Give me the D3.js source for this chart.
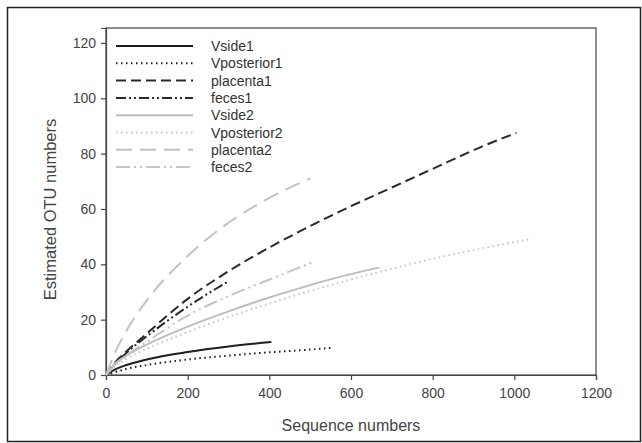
<!DOCTYPE html>
<html>
<head>
<meta charset="utf-8">
<script src="https://cdn.jsdelivr.net/npm/d3@7"></script>
<style>
  body { margin: 0; background: #fff; }
  svg text { font-family: "Liberation Sans", Arial, sans-serif; }
</style>
</head>
<body>
<div id="chart"></div>
<script>
// series names, in legend order
var seriesNames = ["Vside1", "Vposterior1", "placenta1", "feces1", "Vside2", "Vposterior2", "placenta2", "feces2"];

// sequence numbers (x) and estimated OTUs (y)
var vside1X = [0, 25, 50, 100, 200, 300, 405];
var vside1Y = [0, 2.2, 3.6, 5.6, 8.3, 10.3, 11.9];
var vposterior1X = [0, 50, 100, 200, 300, 400, 473, 550];
var vposterior1Y = [0, 2.2, 3.6, 5.6, 7.0, 8.2, 8.9, 9.8];
var placenta1X = [0, 25, 50, 100, 200, 300, 424, 473, 600, 671, 800, 912, 1005];
var placenta1Y = [0, 5, 8.5, 15, 27.5, 37.5, 48, 51.8, 61, 65.8, 74.5, 82, 87.5];
var feces1X = [0, 25, 50, 100, 200, 299];
var feces1Y = [0, 4.5, 8, 14, 24.7, 33.8];
var vside2X = [0, 25, 50, 100, 200, 300, 400, 473, 560, 669];
var vside2Y = [0, 4.5, 7, 11, 17.5, 23, 28, 31.3, 35, 38.8];
var vposterior2X = [0, 25, 50, 100, 200, 300, 400, 473, 600, 800, 1035];
var vposterior2Y = [0, 3.5, 5.8, 9.5, 15.5, 21, 25.8, 29.2, 34.5, 42, 49];
var placenta2X = [0, 25, 50, 100, 200, 300, 400, 500];
var placenta2Y = [0, 9, 16, 27, 43, 55, 64, 71];
var feces2X = [0, 25, 50, 100, 200, 300, 400, 473, 507];
var feces2Y = [0, 4, 7, 12, 21.5, 28.5, 34.5, 38.8, 40.8];

var xTicks = [0, 200, 400, 600, 800, 1000, 1200];
var yTicks = [0, 20, 40, 60, 80, 100, 120];

var seriesX = [vside1X, vposterior1X, placenta1X, feces1X, vside2X, vposterior2X, placenta2X, feces2X];
var seriesY = [vside1Y, vposterior1Y, placenta1Y, feces1Y, vside2Y, vposterior2Y, placenta2Y, feces2Y];

// line styles
var colours = ["#1e1e1e", "#1e1e1e", "#2a2a2a", "#2a2a2a", "#bdbdbd", "#c4c4c4", "#c2c2c2", "#c4c4c4"];
var dashes = ["none", "1.5,3.5", "10,5", "10,3,2,3,2,3", "none", "1.5,3.5", "16,8", "14,4,2,4,2,4"];

var width = 642, height = 443;
var margin = {top: 28, right: 46, bottom: 68, left: 106};

var svg = d3.select("#chart").append("svg")
    .attr("width", width)
    .attr("height", height);

// outer frame
svg.append("rect")
    .attr("x", 7.5).attr("y", 7.5)
    .attr("width", width - 9).attr("height", height - 9)
    .attr("fill", "none")
    .attr("stroke", "#222")
    .attr("stroke-width", 1.5);

var plotW = width - margin.left - margin.right,
    plotH = height - margin.top - margin.bottom;

var g = svg.append("g")
    .attr("transform", "translate(" + margin.left + "," + margin.top + ")");

var xScale = d3.scaleLinear().domain([0, 1200]).range([0, plotW]);
var yScale = d3.scaleLinear().domain([0, 125.4]).range([plotH, 0]);

// plot box
g.append("rect")
    .attr("width", plotW).attr("height", plotH)
    .attr("fill", "none")
    .attr("stroke", "#444")
    .attr("stroke-width", 1.2);

var xAxis = g.append("g")
    .attr("transform", "translate(0," + plotH + ")")
    .call(d3.axisBottom(xScale).tickValues(xTicks).tickSize(5).tickPadding(8).tickFormat(d3.format("d")));
var yAxis = g.append("g")
    .call(d3.axisLeft(yScale).tickValues(yTicks).tickSize(5).tickPadding(5).tickFormat(d3.format("d")));

[xAxis, yAxis].forEach(function(a) {
    a.select(".domain").attr("stroke", "#444").attr("stroke-width", 1.2);
    a.selectAll(".tick line").attr("stroke", "#444").attr("stroke-width", 1.2);
    a.selectAll(".tick text")
        .attr("font-size", 14)
        .attr("font-family", "Liberation Sans, Arial, sans-serif")
        .style("fill", "#444");
});

var lineFunction = d3.line()
    .x(function(d) { return xScale(d[0]); })
    .y(function(d) { return yScale(d[1]); })
    .curve(d3.curveMonotoneX);

for (var j = 0; j < seriesNames.length; j++) {
    var pts = seriesX[j].map(function(x, i) { return [x, seriesY[j][i]]; });
    g.append("path")
        .attr("d", lineFunction(pts))
        .attr("fill", "none")
        .attr("stroke", colours[j])
        .attr("stroke-width", 2)
        .attr("stroke-dasharray", dashes[j]);
}

// legend
var legend = svg.append("g");
for (var k = 0; k < seriesNames.length; k++) {
    var ly = 46 + k * 17.3;
    legend.append("line")
        .attr("x1", 116).attr("x2", 193)
        .attr("y1", ly).attr("y2", ly)
        .attr("stroke", colours[k])
        .attr("stroke-width", 2)
        .attr("stroke-dasharray", dashes[k]);
    legend.append("text")
        .attr("x", 211).attr("y", ly + 5)
        .attr("font-size", 14)
        .style("fill", "#333")
        .text(seriesNames[k]);
}

// axis titles
svg.append("text")
    .attr("x", margin.left + plotW / 2)
    .attr("y", 431)
    .attr("text-anchor", "middle")
    .attr("font-size", 16)
    .style("fill", "#444")
    .text("Sequence numbers");
svg.append("text")
    .attr("transform", "translate(56," + (margin.top + plotH / 2 + 8) + ") rotate(-90)")
    .attr("text-anchor", "middle")
    .attr("font-size", 16.5)
    .style("fill", "#444")
    .text("Estimated OTU numbers");
</script>
</body>
</html>
